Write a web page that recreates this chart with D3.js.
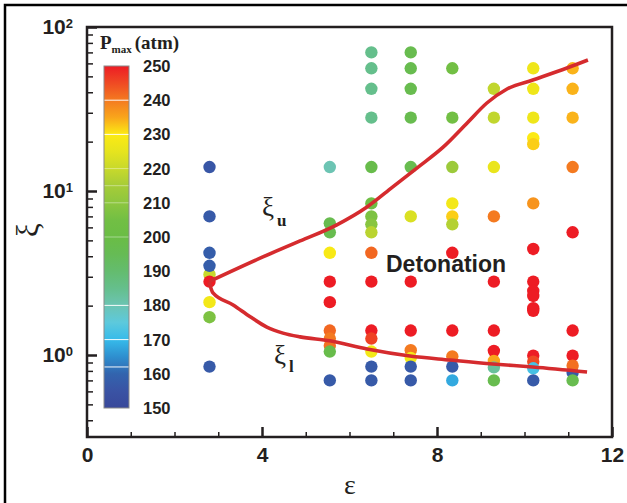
<!DOCTYPE html>
<html>
<head>
<meta charset="utf-8">
<script src="https://cdn.jsdelivr.net/npm/d3@7/dist/d3.min.js"></script>
<style>
    body { margin: 0; background: #fff; }
    svg { display: block; }
    .num { font-family: "Liberation Sans", Arial, sans-serif; font-weight: bold; fill: #231f20; }
    .greek { font-family: "Liberation Serif", "Times New Roman", serif; fill: #231f20; }
</style>
</head>
<body>
<div id="chart"></div>
<script>

// ---- data ----
// columns of simulations (epsilon) and, per column, xi and peak pressure
const colEps = [2.8, 5.55, 6.5, 7.4, 8.35, 9.3, 10.2, 11.1];

const colXi = [
    [14, 7, 4.2, 3.1, 3.5, 2.8, 2.1, 1.7, 0.85],
    [14, 6.35, 5.6, 4.2, 2.8, 2.1, 1.41, 1.26, 1.14, 1.05, 0.7],
    [70, 56, 42, 28, 14, 8.4, 7, 6.26, 5.6, 4.2, 2.8, 1.41, 1.26, 1.05, 0.85, 0.7],
    [70, 56, 42, 28, 14, 7, 2.8, 1.41, 1.07, 0.96, 0.85, 0.7],
    [56, 28, 14, 8.4, 7, 6.26, 4.2, 1.41, 0.98, 0.85, 0.7],
    [42, 28, 14, 7, 2.8, 1.41, 1.06, 0.92, 0.84, 0.7],
    [56, 42, 28, 21, 19.3, 8.4, 4.43, 2.8, 2.46, 2.29, 1.93, 1.86, 0.99, 0.91, 0.83, 0.7],
    [56, 42, 28, 14, 5.6, 1.41, 0.99, 0.78, 0.7, 0.86]
];

const colP = [
    [156, 157, 158, 220, 158, 250, 228, 207, 157],
    [180, 197, 197, 229, 250, 250, 242, 240, 241, 198, 157],
    [185, 185, 185, 185, 198, 203, 207, 209, 218, 242, 250, 250, 246, 228, 157, 157],
    [197, 197, 197, 197, 197, 223, 250, 250, 240, 228, 157, 157],
    [205, 205, 213, 228, 232, 217, 250, 250, 240, 157, 168],
    [219, 219, 226, 240, 250, 250, 250, 235, 183, 197],
    [227, 227, 227, 230, 232, 237, 250, 250, 250, 250, 250, 250, 250, 245, 172, 157],
    [234, 234, 234, 240, 250, 250, 250, 157, 197, 241]
];

// upper (xi_u) and lower (xi_l) limits
const upperEps = [2.79, 4.02, 4.87, 5.70, 6.40, 6.99, 7.54, 8.14, 8.69, 9.14, 9.60, 10.19, 10.97, 11.45];
const upperXi  = [2.80, 3.96, 4.96, 6.20, 7.99, 10.6, 13.8, 18.5, 26.0, 34.4, 41.9, 47.5, 56.2, 62.9];
const lowerEps = [2.79, 2.88, 3.34, 3.73, 4.11, 4.48, 4.87, 5.55, 6.40, 7.38, 8.30, 9.28, 10.19, 11.43];
const lowerXi  = [2.79, 2.39, 2.02, 1.71, 1.48, 1.36, 1.29, 1.22, 1.088, 0.986, 0.932, 0.881, 0.845, 0.788];

// axis and legend ticks
const xMajor = [0, 4, 8, 12];
const xMinor = [1, 2, 3, 5, 6, 7, 9, 10, 11];
const yMajor = [1, 10, 100];
const yMinor = [0.4, 0.5, 0.6, 0.7, 0.8, 0.9, 2, 3, 4, 5, 6, 7, 8, 9, 20, 30, 40, 50, 60, 70, 80, 90];
const pTicks = [150, 160, 170, 180, 190, 200, 210, 220, 230, 240, 250];

// colour map of the pressure legend
const pStops  = [150, 155, 160, 165, 170, 175, 180, 185, 190, 195, 200, 205, 210, 215, 220, 225, 230, 235, 240, 245, 250];
const pColors = ['#39489a', '#3a53a4', '#3264ae', '#2e8fcf', '#36bbea', '#5dc9dc', '#6cc4b3', '#65bf8c',
                 '#64bc6e', '#66bb55', '#6abd45', '#72bf44', '#8dc63f', '#a6cc38', '#c8d92b', '#e6e41e',
                 '#fcea14', '#f9a51b', '#f47a20', '#ef4a23', '#ed1c24'];
// white contour lines drawn across the legend bar
const barLines = [240, 230, 220, 215, 210, 200, 180, 170, 162];


// ---- chart ----
const W = 627, H = 503;
const ink = '#231f20';

const svg = d3.select('#chart').append('svg')
    .attr('width', W)
    .attr('height', H);

// outer frame (runs off the picture at right and bottom)
svg.append('rect')
    .attr('x', 5).attr('y', 5)
    .attr('width', 700).attr('height', 600)
    .attr('fill', 'none')
    .attr('stroke', '#000')
    .attr('stroke-width', 2.5);

const x = d3.scaleLinear().domain([0, 12]).range([87, 612]);
const y = d3.scaleLog().domain([Math.pow(10, -0.5), 100]).range([437, 27]);
const color = d3.scaleLinear().domain(pStops).range(pColors).clamp(true);

// x axis, ticks pointing inwards
const xAxis = svg.append('g').attr('transform', `translate(0,${y.range()[0]})`);
xAxis.call(d3.axisBottom(x).tickValues(xMinor).tickSizeInner(-5).tickSizeOuter(0).tickFormat(''))
    .selectAll('line').attr('stroke', ink).attr('stroke-width', 1.5);
const xAxisMaj = svg.append('g').attr('transform', `translate(0,${y.range()[0]})`);
xAxisMaj.call(d3.axisBottom(x).tickValues(xMajor).tickSizeInner(-10).tickSizeOuter(0).tickPadding(10).tickFormat(d3.format('d')));
xAxisMaj.selectAll('line').attr('stroke', ink).attr('stroke-width', 2.5);
xAxisMaj.selectAll('text').attr('class', 'num').style('font-size', '21px');

// y axis (log)
const yAxis = svg.append('g').attr('transform', `translate(${x.range()[0]},0)`);
yAxis.call(d3.axisLeft(y).tickValues(yMinor).tickSizeInner(-6).tickSizeOuter(0).tickFormat(''))
    .selectAll('line').attr('stroke', ink).attr('stroke-width', 1.5);
const yAxisMaj = svg.append('g').attr('transform', `translate(${x.range()[0]},0)`);
yAxisMaj.call(d3.axisLeft(y).tickValues(yMajor).tickSizeInner(-10).tickSizeOuter(0).tickPadding(14).tickFormat(''));
yAxisMaj.selectAll('line').attr('stroke', ink).attr('stroke-width', 2.5);
yAxisMaj.selectAll('.tick text')
    .attr('class', 'num')
    .style('font-size', '21px')
    .each(function (d) {
        const t = d3.select(this);
        t.append('tspan').text('10');
        t.append('tspan').attr('dy', '-0.5em').style('font-size', '13px').text(Math.round(Math.log10(d)));
    });
svg.selectAll('.domain').remove();

// plot frame
svg.append('rect')
    .attr('x', x(0)).attr('y', y(100))
    .attr('width', x(12) - x(0))
    .attr('height', y.range()[0] - y(100))
    .attr('fill', 'none')
    .attr('stroke', ink)
    .attr('stroke-width', 2.5);

// axis titles
svg.append('text')
    .attr('class', 'greek')
    .attr('x', 350).attr('y', 494)
    .attr('text-anchor', 'middle')
    .style('font-size', '28px')
    .text('ε');

svg.append('text')
    .attr('class', 'greek')
    .attr('transform', 'translate(38,230) rotate(-90)')
    .attr('text-anchor', 'middle')
    .style('font-size', '31px')
    .text('ξ');

// simulation points
const points = [];
colEps.forEach((e, i) => {
    colXi[i].forEach((v, j) => points.push({eps: e, xi: v, p: colP[i][j]}));
});

svg.append('g').selectAll('circle')
    .data(points)
    .enter()
    .append('circle')
    .attr('cx', d => x(d.eps))
    .attr('cy', d => y(d.xi))
    .attr('r', 6.2)
    .attr('fill', d => color(d.p));

// limit curves
const line = d3.line()
    .x(d => x(d[0]))
    .y(d => y(d[1]))
    .curve(d3.curveMonotoneX);

[[upperEps, upperXi], [lowerEps, lowerXi]].forEach(c => {
    svg.append('path')
        .datum(c[0].map((e, i) => [e, c[1][i]]))
        .attr('d', line)
        .attr('fill', 'none')
        .attr('stroke', '#d52b2e')
        .attr('stroke-width', 3.6);
});

// curve labels
const lu = svg.append('text').attr('class', 'greek').attr('x', 262).attr('y', 216);
lu.append('tspan').style('font-size', '27px').text('ξ');
lu.append('tspan').attr('dx', 3).attr('dy', 10).style('font-size', '17px').style('font-weight', 'bold').text('u');

const ll = svg.append('text').attr('class', 'greek').attr('x', 274).attr('y', 364);
ll.append('tspan').style('font-size', '27px').text('ξ');
ll.append('tspan').attr('dx', 3).attr('dy', 8).style('font-size', '17px').style('font-weight', 'bold').text('l');

svg.append('text')
    .attr('class', 'num')
    .attr('x', 386).attr('y', 272)
    .style('font-size', '23px')
    .text('Detonation');

// ---- pressure legend ----
const pScale = d3.scaleLinear().domain([150, 250]).range([408, 66]);
const barX = 104, barW = 25;

const grad = svg.append('defs').append('linearGradient')
    .attr('id', 'pgrad')
    .attr('x1', 0).attr('y1', 1).attr('x2', 0).attr('y2', 0);
grad.selectAll('stop')
    .data(pStops)
    .enter()
    .append('stop')
    .attr('offset', d => (d - 150) / 100)
    .attr('stop-color', d => color(d));

svg.append('rect')
    .attr('x', barX).attr('y', pScale(250))
    .attr('width', barW).attr('height', pScale(150) - pScale(250))
    .attr('fill', 'url(#pgrad)')
    .attr('stroke', '#8a8a8a')
    .attr('stroke-width', 1);

svg.append('g').selectAll('line')
    .data(barLines)
    .enter()
    .append('line')
    .attr('x1', barX + 0.5).attr('x2', barX + barW - 0.5)
    .attr('y1', d => pScale(d)).attr('y2', d => pScale(d))
    .attr('stroke', '#fff')
    .attr('stroke-opacity', d => [240, 230, 180, 170, 162].includes(d) ? 0.95 : 0.4)
    .attr('stroke-width', 1);

svg.append('g').selectAll('text')
    .data(pTicks)
    .enter()
    .append('text')
    .attr('class', 'num')
    .attr('x', 143)
    .attr('y', d => pScale(d))
    .attr('dy', '0.36em')
    .style('font-size', '16.5px')
    .text(d => d);

const title = svg.append('text')
    .attr('x', 100).attr('y', 49)
    .style('font-family', '"Liberation Serif", "Times New Roman", serif')
    .style('font-weight', 'bold')
    .attr('fill', ink);
title.append('tspan').style('font-size', '19px').text('P');
title.append('tspan').attr('dy', 4).style('font-size', '11px').text('max');
title.append('tspan').attr('dy', -4).attr('dx', 3).style('font-size', '19px').text('(atm)');

</script>
</body>
</html>
